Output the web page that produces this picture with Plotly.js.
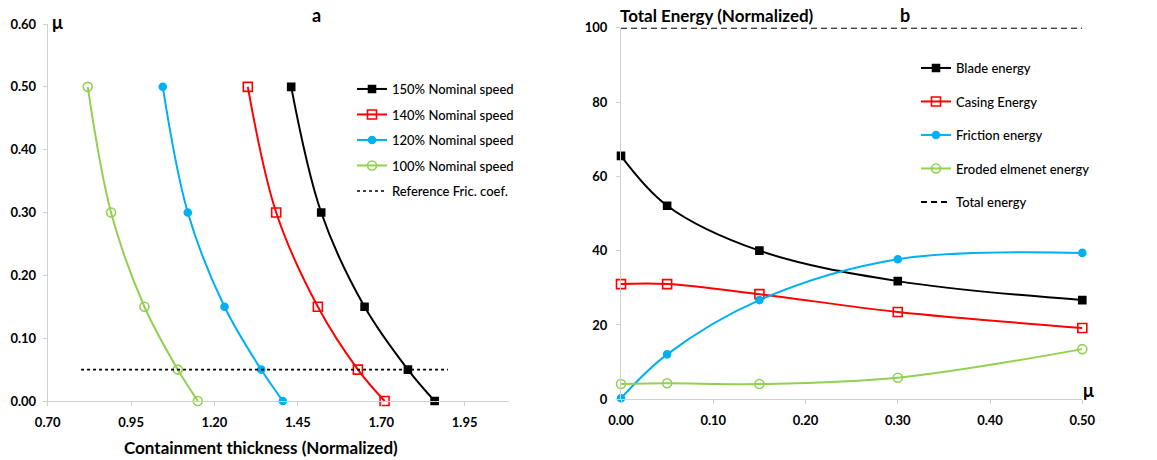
<!DOCTYPE html>
<html>
<head>
<meta charset="utf-8">
<script src="https://cdn.plot.ly/plotly-3.0.1.min.js"></script>
<style>html,body{margin:0;padding:0;background:#fff;}#chart{width:1157px;height:460px;}</style>
</head>
<body>
<div id="chart"></div>
<script>
// ---------- Panel a data ----------
const muLevels = [0.50, 0.30, 0.15, 0.05, 0.00];
const thick150 = [1.43, 1.52, 1.65, 1.78, 1.86];
const thick140 = [1.30, 1.385, 1.51, 1.63, 1.71];
const thick120 = [1.045, 1.12, 1.23, 1.34, 1.405];
const thick100 = [0.82, 0.89, 0.99, 1.09, 1.15];
const refFricX = [0.80, 1.90];
const refFricY = [0.05, 0.05];
const namesA = ["150% Nominal speed", "140% Nominal speed", "120% Nominal speed", "100% Nominal speed", "Reference Fric. coef."];
const xTicksA = [0.70, 0.95, 1.20, 1.45, 1.70, 1.95];
const yTicksA = [0.00, 0.10, 0.20, 0.30, 0.40, 0.50, 0.60];

// ---------- Panel b data ----------
const muB = [0.00, 0.05, 0.15, 0.30, 0.50];
const bladeEnergy = [65.5, 52.1, 40.0, 31.8, 26.7];
const casingEnergy = [31.0, 31.0, 28.3, 23.5, 19.2];
const frictionEnergy = [0.3, 12.1, 26.7, 37.7, 39.4];
const erodedEnergy = [4.1, 4.3, 4.1, 5.8, 13.5];
const totalX = [0.00, 0.50];
const totalY = [100, 100];
const namesB = ["Blade energy", "Casing Energy", "Friction energy", "Eroded elmenet energy", "Total energy"];
const xTicksB = [0.00, 0.10, 0.20, 0.30, 0.40, 0.50];
const yTicksB = [0, 20, 40, 60, 80, 100];

const BLACK = "#000000", RED = "#ff0000", BLUE = "#00b0f0", GREEN = "#92d050";
const W = 1157, H = 460;
const px = v => v / W;
const py = v => 1 - v / H;

function series(x, y, name, color, symbol, size, xa, ya, leg, grp) {
  return {
    type: "scatter", mode: "lines+markers", x: x, y: y, name: name,
    xaxis: xa, yaxis: ya, legend: leg, legendgroup: grp, cliponaxis: false,
    line: {color: color, width: 2, shape: "spline", smoothing: 1},
    marker: {color: color, symbol: symbol, size: size, line: {color: color, width: 1.6}}
  };
}

const traces = [
  series(thick150, muLevels, namesA[0], BLACK, "square", 7, "x", "y", "legend", "a1"),
  series(thick140, muLevels, namesA[1], RED, "square-open", 9, "x", "y", "legend", "a2"),
  series(thick120, muLevels, namesA[2], BLUE, "circle", 7, "x", "y", "legend", "a3"),
  series(thick100, muLevels, namesA[3], GREEN, "circle-open", 9, "x", "y", "legend", "a4"),
  {type: "scatter", mode: "lines", x: refFricX, y: refFricY, name: namesA[4], xaxis: "x", yaxis: "y",
   legend: "legend", legendgroup: "a5", cliponaxis: false, line: {color: BLACK, width: 1.6, dash: "dot"}},
  series(muB, bladeEnergy, namesB[0], BLACK, "square", 7, "x2", "y2", "legend2", "b1"),
  series(muB, casingEnergy, namesB[1], RED, "square-open", 9, "x2", "y2", "legend2", "b2"),
  series(muB, frictionEnergy, namesB[2], BLUE, "circle", 7, "x2", "y2", "legend2", "b3"),
  series(muB, erodedEnergy, namesB[3], GREEN, "circle-open", 9, "x2", "y2", "legend2", "b4"),
  {type: "scatter", mode: "lines", x: totalX, y: totalY, name: namesB[4], xaxis: "x2", yaxis: "y2",
   legend: "legend2", legendgroup: "b5", cliponaxis: false, line: {color: BLACK, width: 2, dash: "6px,4px"}}
];

const tickFont = {family: "Lato, 'Open Sans', sans-serif", size: 13, color: "#000", weight: "bold"};
const axisBase = {
  showgrid: false, zeroline: false, showline: true, linecolor: "#d0d0d0", linewidth: 1,
  ticks: "outside", ticklen: 4, tickcolor: "#d0d0d0", tickwidth: 1,
  tickfont: tickFont, tickformat: ".2f", fixedrange: true
};

const titleFont = {family: "Lato, 'Open Sans', sans-serif", size: 16, color: "#000", weight: "bold"};
function ann(text, x, y, xanchor, size) {
  return {text: text, xref: "paper", yref: "paper", x: px(x), y: py(y), xanchor: xanchor || "center",
          yanchor: "middle", showarrow: false, font: Object.assign({}, titleFont, size ? {size: size} : {})};
}

const legendFont = {family: "Lato, 'Open Sans', sans-serif", size: 13, color: "#000", weight: 500};
const layout = {
  width: W, height: H, margin: {l: 0, r: 0, t: 0, b: 0},
  paper_bgcolor: "#fff", plot_bgcolor: "rgba(0,0,0,0)",
  xaxis: Object.assign({}, axisBase, {domain: [px(47.7), px(509)], range: [0.70, 2.083],
          tickvals: xTicksA, anchor: "y", ticklabelstandoff: 5}),
  yaxis: Object.assign({}, axisBase, {domain: [1 - 401 / H, 1 - 24 / H], range: [0, 0.60],
          tickvals: yTicksA, anchor: "x", ticklabelstandoff: 4}),
  xaxis2: Object.assign({}, axisBase, {domain: [px(621), px(1082.3)], range: [0, 0.50],
          tickvals: xTicksB, anchor: "y2", ticklabelstandoff: 5}),
  yaxis2: Object.assign({}, axisBase, {domain: [1 - 399.3 / H, 1 - 27.7 / H], range: [0, 100],
          tickvals: yTicksB, tickformat: "d", anchor: "x2", ticklabelstandoff: 6}),
  legend: {x: px(352), y: py(74), xanchor: "left", yanchor: "top", bgcolor: "rgba(0,0,0,0)",
           font: legendFont, itemwidth: 30, traceorder: "grouped", tracegroupgap: 5.6, itemclick: false},
  legend2: {x: px(916), y: py(53), xanchor: "left", yanchor: "top", bgcolor: "rgba(0,0,0,0)",
           font: legendFont, itemwidth: 30, traceorder: "grouped", tracegroupgap: 13.6, itemclick: false},
  annotations: [
    ann("Containment thickness (Normalized)", 261, 447, "center", 17),
    ann("μ", 57.5, 21.5, "center", 18),
    ann("a", 316, 15.5, "center", 18),
    ann("Total Energy (Normalized)", 618, 15, "left", 17),
    ann("b", 905, 15, "center", 18),
    ann("μ", 1088, 390, "center", 18)
  ],
  showlegend: true
};

Plotly.newPlot("chart", traces, layout, {staticPlot: true, displayModeBar: false});
</script>
</body>
</html>
